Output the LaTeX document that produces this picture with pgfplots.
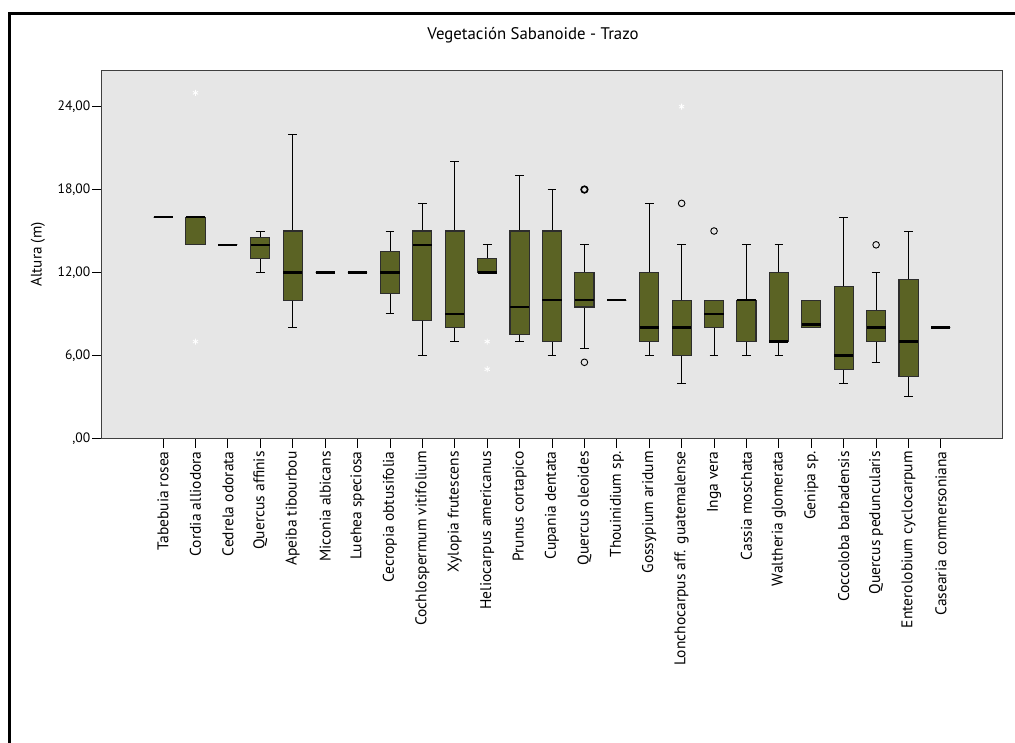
\documentclass[border=0pt]{standalone}
\usepackage{pgfplots}
\pgfplotsset{compat=1.18}
\usepgfplotslibrary{statistics}
\usepackage{fontspec}
\setmainfont{PT Sans}
\definecolor{boxfill}{RGB}{91,99,36}
\definecolor{bggray}{RGB}{230,230,230}
\definecolor{boxedge}{RGB}{45,45,45}
\newcommand{\bp}[6]{\addplot[boxplot prepared={draw position=#1, lower whisker=#2, lower quartile=#3, median=#4, upper quartile=#5, upper whisker=#6}] coordinates {};}
\begin{document}
\begin{tikzpicture}[x=1pt,y=1pt]
\clip (0,0) rectangle (1015,742);
\fill[white] (0,0) rectangle (1015,742);
\draw[line width=2.6pt] (9.5,-20) -- (9.5,728.7) -- (1040,728.7);
\node[font=\fontsize{16.8}{19}\selectfont] at (533,706.5) {Vegetación Sabanoide - Trazo};
\begin{axis}[
  scale only axis, width=901pt, height=367.6pt,
  at={(101.5pt,303.7pt)}, anchor=south west,
  xmin=-1.9, xmax=25.9, ymin=0, ymax=26.6,
  axis background/.style={fill=bggray},
  axis line style={draw=black!75, line width=1.2pt},
  tick align=outside, major tick length=9.5pt,
  tick style={black, line width=0.9pt},
  xtick pos=bottom, ytick pos=left,
  ytick={0,6,12,18,24},
  yticklabels={{,00},{6,00},{12,00},{18,00},{24,00}},
  xtick={0,...,24},
  xticklabels={Tabebuia rosea, Cordia alliodora, Cedrela odorata, Quercus affinis, Apeiba tibourbou, Miconia albicans, Luehea speciosa, Cecropia obtusifolia, Cochlospermum vitifolium, Xylopia frutescens, Heliocarpus americanus, Prunus cortapico, Cupania dentata, Quercus oleoides, Thouinidium sp., Gossypium aridum, Lonchocarpus aff. guatemalense, Inga vera, Cassia moschata, Waltheria glomerata, Genipa sp., Coccoloba barbadensis, Quercus peduncularis, Enterolobium cyclocarpum, Casearia commersoniana},
  x tick label style={rotate=90, anchor=east, font=\fontsize{15.5}{17}\selectfont},
  y tick label style={font=\fontsize{13.6}{15}\selectfont, inner sep=1.5pt},
  ylabel={Altura (m)},
  ylabel style={at={(axis description cs:-0.0705,0.5)}, anchor=center, font=\fontsize{15.2}{17}\selectfont},
  boxplot/draw direction=y,
  boxplot/box extend=0.59,
  boxplot/whisker extend=0.27,
  boxplot/every box/.style={draw=boxedge, fill=boxfill, line width=1.1pt},
  boxplot/every median/.style={draw=black, line width=2.6pt},
  boxplot/every whisker/.style={draw=black, line width=0.9pt},
]
\bp{0}{16}{16}{16}{16}{16}
\bp{1}{14}{14}{16}{16}{16}
\bp{2}{14}{14}{14}{14}{14}
\bp{3}{12}{13}{14}{14.5}{15}
\bp{4}{8}{10}{12}{15}{22}
\bp{5}{12}{12}{12}{12}{12}
\bp{6}{12}{12}{12}{12}{12}
\bp{7}{9}{10.5}{12}{13.5}{15}
\bp{8}{6}{8.5}{14}{15}{17}
\bp{9}{7}{8}{9}{15}{20}
\bp{10}{12}{12}{12}{13}{14}
\bp{11}{7}{7.5}{9.5}{15}{19}
\bp{12}{6}{7}{10}{15}{18}
\bp{13}{6.5}{9.5}{10}{12}{14}
\bp{14}{10}{10}{10}{10}{10}
\bp{15}{6}{7}{8}{12}{17}
\bp{16}{4}{6}{8}{10}{14}
\bp{17}{6}{8}{9}{10}{10}
\bp{18}{6}{7}{10}{10}{14}
\bp{19}{6}{7}{7}{12}{14}
\bp{20}{8}{8}{8.25}{10}{10}
\bp{21}{4}{5}{6}{11}{16}
\bp{22}{5.5}{7}{8}{9.25}{12}
\bp{23}{3}{4.5}{7}{11.5}{15}
\bp{24}{8}{8}{8}{8}{8}
\addplot[only marks, mark=o, mark size=3.3pt, black, line width=0.9pt] coordinates {(13,18) (13,5.5) (16,17) (17,15) (22,14)};
\addplot[only marks, mark=o, mark size=3.3pt, black, line width=1.6pt] coordinates {(13,18)};
\addplot[only marks, mark=asterisk, mark size=3pt, white, line width=0.8pt] coordinates {(1,25) (1,7) (10,7) (10,5) (16,24)};
\end{axis}
\end{tikzpicture}
\end{document}
